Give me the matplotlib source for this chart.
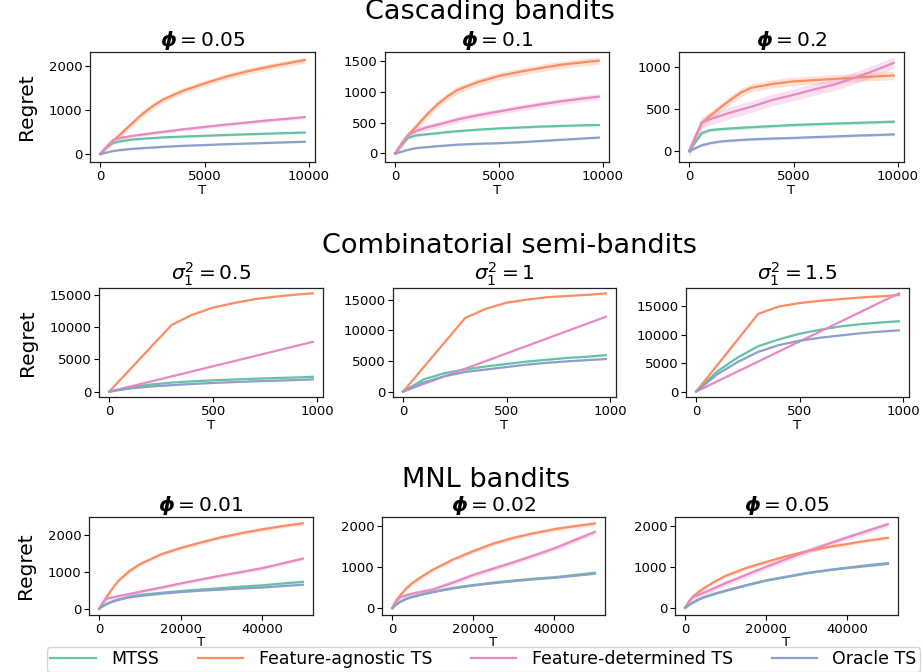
import matplotlib
matplotlib.use("Agg")
import matplotlib.pyplot as plt
import numpy as np

# ---------------- data ----------------
SERIES = ["MTSS", "Feature-agnostic TS", "Feature-determined TS", "Oracle TS"]
COLORS = ["#66c2a5", "#fc8d62", "#e78ac3", "#8da0cb"]

# Cascading bandits
X_CASC = [0, 300, 600, 1000, 1500, 2000, 2500, 3000, 4000, 5000, 6000, 7000, 8000, 9000, 9800]
casc_005_mtss = [0, 150, 245, 290, 325, 345, 360, 375, 395, 412, 430, 445, 460, 475, 485]
casc_005_agn = [0, 150, 290, 460, 680, 900, 1080, 1230, 1440, 1600, 1750, 1870, 1970, 2060, 2130]
casc_005_det = [0, 160, 310, 365, 405, 440, 470, 500, 560, 612, 665, 710, 760, 800, 836]
casc_005_orc = [0, 30, 65, 90, 115, 130, 145, 160, 185, 201, 220, 235, 250, 265, 276]

casc_01_mtss = [0, 130, 250, 290, 310, 325, 345, 360, 385, 405, 420, 435, 445, 455, 460]
casc_01_agn = [0, 150, 285, 430, 620, 785, 920, 1030, 1160, 1257, 1325, 1385, 1440, 1478, 1505]
casc_01_det = [0, 150, 290, 360, 420, 460, 505, 550, 620, 680, 740, 795, 845, 890, 920]
casc_01_orc = [0, 25, 55, 85, 100, 115, 128, 140, 155, 165, 180, 200, 220, 240, 255]

casc_02_mtss = [0, 110, 215, 250, 262, 270, 278, 285, 298, 311, 320, 328, 336, 344, 350]
casc_02_agn = [0, 170, 330, 420, 520, 615, 700, 755, 800, 830, 845, 860, 875, 890, 900]
casc_02_det = [0, 170, 340, 380, 420, 460, 495, 530, 610, 670, 735, 795, 880, 970, 1050]
casc_02_orc = [0, 35, 70, 95, 115, 125, 133, 140, 150, 157, 167, 175, 185, 192, 199]

# Combinatorial semi-bandits
X_COMB = [0, 100, 200, 300, 400, 500, 600, 700, 800, 900, 980]
comb_05_mtss = [0, 700, 1100, 1400, 1600, 1750, 1880, 2000, 2100, 2200, 2300]
comb_05_agn = [0, 3430, 6870, 10300, 11900, 13000, 13700, 14300, 14700, 15000, 15200]
comb_05_det = [0, 790, 1570, 2360, 3140, 3930, 4710, 5500, 6290, 7070, 7700]
comb_05_orc = [0, 500, 800, 1000, 1200, 1350, 1480, 1600, 1700, 1800, 1900]

comb_1_mtss = [0, 2000, 3000, 3600, 4100, 4500, 4900, 5200, 5500, 5700, 5950]
comb_1_agn = [0, 4000, 8000, 12000, 13500, 14500, 15000, 15400, 15600, 15800, 16000]
comb_1_det = [0, 1245, 2490, 3735, 4980, 6225, 7470, 8715, 9960, 11200, 12200]
comb_1_orc = [0, 1500, 2500, 3200, 3600, 4000, 4400, 4700, 4950, 5150, 5300]

comb_15_mtss = [0, 3500, 6000, 8000, 9200, 10200, 10900, 11500, 11900, 12200, 12400]
comb_15_agn = [0, 4570, 9130, 13700, 15000, 15600, 16000, 16300, 16600, 16800, 17000]
comb_15_det = [0, 1770, 3530, 5300, 7070, 8830, 10600, 12360, 14130, 15900, 17300]
comb_15_orc = [0, 3000, 5200, 7000, 8200, 8950, 9500, 9900, 10300, 10600, 10800]

# MNL bandits
X_MNL = [0, 1000, 2000, 3500, 5000, 7500, 10000, 15000, 20000, 25000, 30000, 35000, 40000, 45000, 50000]
mnl_001_mtss = [0, 80, 140, 210, 260, 330, 375, 430, 480, 520, 560, 600, 635, 685, 730]
mnl_001_agn = [0, 180, 350, 590, 790, 1030, 1210, 1470, 1650, 1800, 1940, 2055, 2155, 2245, 2320]
mnl_001_det = [0, 180, 280, 310, 350, 400, 460, 570, 685, 795, 900, 1000, 1100, 1230, 1360]
mnl_001_orc = [0, 80, 135, 200, 245, 310, 345, 405, 453, 490, 520, 550, 575, 615, 652]

mnl_002_mtss = [0, 90, 155, 230, 275, 340, 395, 490, 560, 620, 670, 715, 750, 805, 860]
mnl_002_agn = [0, 190, 310, 480, 610, 780, 930, 1180, 1385, 1570, 1710, 1820, 1918, 1990, 2055]
mnl_002_det = [0, 150, 265, 310, 350, 400, 450, 620, 805, 960, 1115, 1280, 1450, 1650, 1850]
mnl_002_orc = [0, 85, 150, 222, 268, 330, 385, 478, 548, 605, 655, 698, 735, 785, 835]

mnl_005_mtss = [0, 70, 130, 205, 260, 340, 410, 540, 660, 750, 840, 910, 970, 1020, 1070]
mnl_005_agn = [0, 160, 280, 400, 500, 650, 780, 970, 1120, 1260, 1380, 1480, 1560, 1640, 1710]
mnl_005_det = [0, 160, 260, 320, 380, 490, 600, 800, 1000, 1190, 1380, 1550, 1720, 1880, 2040]
mnl_005_orc = [0, 70, 130, 210, 270, 350, 420, 550, 670, 760, 850, 920, 980, 1040, 1090]

# approximate half-widths of the shaded bands (per series, per panel)
band_casc_005 = [25, 70, 40, 20]
band_casc_01 = [20, 60, 50, 15]
band_casc_02 = [20, 50, 70, 15]
band_comb_05 = [60, 60, 60, 60]
band_comb_1 = [80, 80, 80, 80]
band_comb_15 = [80, 80, 80, 80]
band_mnl_001 = [20, 50, 50, 15]
band_mnl_002 = [15, 50, 60, 15]
band_mnl_005 = [15, 40, 70, 15]

ROW_TITLES = ["Cascading bandits", "Combinatorial semi-bandits", "MNL bandits"]
PANEL_TITLES = [
    [r"$\boldsymbol{\phi} = 0.05$", r"$\boldsymbol{\phi} = 0.1$", r"$\boldsymbol{\phi} = 0.2$"],
    [r"$\sigma_1^2 = 0.5$", r"$\sigma_1^2 = 1$", r"$\sigma_1^2 = 1.5$"],
    [r"$\boldsymbol{\phi} = 0.01$", r"$\boldsymbol{\phi} = 0.02$", r"$\boldsymbol{\phi} = 0.05$"],
]
XTICKS = [[0, 5000, 10000], [0, 500, 1000], [0, 20000, 40000]]

panels = [
    [(X_CASC, [casc_005_mtss, casc_005_agn, casc_005_det, casc_005_orc], band_casc_005),
     (X_CASC, [casc_01_mtss, casc_01_agn, casc_01_det, casc_01_orc], band_casc_01),
     (X_CASC, [casc_02_mtss, casc_02_agn, casc_02_det, casc_02_orc], band_casc_02)],
    [(X_COMB, [comb_05_mtss, comb_05_agn, comb_05_det, comb_05_orc], band_comb_05),
     (X_COMB, [comb_1_mtss, comb_1_agn, comb_1_det, comb_1_orc], band_comb_1),
     (X_COMB, [comb_15_mtss, comb_15_agn, comb_15_det, comb_15_orc], band_comb_15)],
    [(X_MNL, [mnl_001_mtss, mnl_001_agn, mnl_001_det, mnl_001_orc], band_mnl_001),
     (X_MNL, [mnl_002_mtss, mnl_002_agn, mnl_002_det, mnl_002_orc], band_mnl_002),
     (X_MNL, [mnl_005_mtss, mnl_005_agn, mnl_005_det, mnl_005_orc], band_mnl_005)],
]

# ---------------- layout (pixels) ----------------
W, H = 923, 672
fig = plt.figure(figsize=(W / 100, H / 100), dpi=100)
plt.rcParams['mathtext.fontset'] = 'dejavusans'

cols = [
    [(90, 315), (385, 609), (679, 904)],
    [(99, 323), (393, 616), (686, 909)],
    [(89, 313), (382, 605), (675, 898)],
]
rows = [(52, 162), (288, 397), (517, 615)]
row_title_pos = [(490, 12), (510, 246), (486, 480)]

handles = None
for r in range(3):
    top, bot = rows[r]
    for c in range(3):
        left, right = cols[r][c]
        ax = fig.add_axes([left / W, 1 - bot / H, (right - left) / W, (bot - top) / H])
        x, ys, band = panels[r][c]
        x = np.asarray(x, float)
        hs = []
        for i, y in enumerate(ys):
            y = np.asarray(y, float)
            ax.fill_between(x, y - band[i], y + band[i], color=COLORS[i], alpha=0.25, lw=0)
            h, = ax.plot(x, y, color=COLORS[i], lw=1.6, label=SERIES[i])
            hs.append(h)
        handles = hs
        ax.set_xticks(XTICKS[r])
        ax.tick_params(labelsize=9.5, length=3.5, width=0.8, pad=2)
        for s in ax.spines.values():
            s.set_linewidth(0.9)
            s.set_color("#222222")
        ax.set_title(PANEL_TITLES[r][c], fontsize=14.5, pad=4)
        ax.set_xlabel("T", fontsize=9.5, labelpad=1 if r < 2 else 0)
        if c == 0:
            ax.set_ylabel("Regret", fontsize=14.5, labelpad=9)
    fig.text(row_title_pos[r][0] / W, 1 - row_title_pos[r][1] / H, ROW_TITLES[r],
             fontsize=19.5, ha="center", va="center")

fig.legend(handles, SERIES, loc="center", ncol=4, fontsize=12.5, mode="expand",
           bbox_to_anchor=(47 / W, 1 - 671 / H, (920 - 47) / W, 23 / H),
           frameon=True, handlelength=2.6, handletextpad=0.9, borderaxespad=0,
           borderpad=0.2, fancybox=True, edgecolor="#cccccc")

fig.savefig("out.png", dpi=100)
